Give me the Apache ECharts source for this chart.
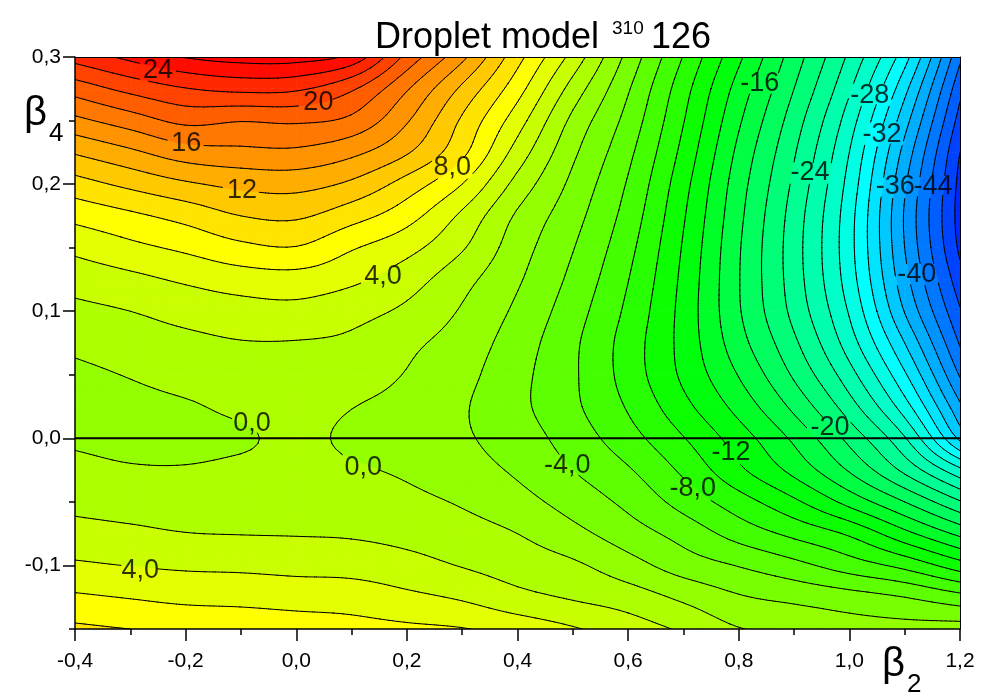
<!DOCTYPE html>
<html><head><meta charset="utf-8">
<script src="https://cdn.jsdelivr.net/npm/echarts@6/dist/echarts.min.js"></script>
<style>html,body{margin:0;padding:0;background:#fff}#c{width:997px;height:696px}</style>
</head><body><div id="c"></div>
<script>
// ---- data ----
const beta2 = [-0.4,-0.3,-0.2,-0.1,0.0,0.1,0.2,0.3,0.4,0.5,0.6,0.7,0.8,0.9,1.0,1.1,1.2];
const beta4 = [0.3,0.275,0.25,0.225,0.2,0.175,0.15,0.125,0.1,0.075,0.05,0.025,0.0,-0.025,-0.05,-0.075,-0.1,-0.125,-0.15];
// energy[row for beta4][column for beta2], MeV
const energy = [
 [22.8,24.5,26.1,26.8,26.8,25.4,19.4,14.5,8.7,3.3,-2.6,-8.1,-13.6,-19.0,-24.4,-31.2,-41.6],
 [18.9,20.6,21.9,22.5,22.3,20.3,16.2,11.6,6.8,1.2,-3.8,-9.2,-14.8,-20.0,-25.7,-33.4,-43.4],
 [15.5,17.0,18.5,18.1,18.3,17.5,14.2,9.7,4.9,-0.5,-4.7,-9.9,-15.7,-21.0,-27.0,-35.2,-44.8],
 [12.2,13.6,15.1,15.5,15.6,14.5,12.2,8.5,3.15,-1.6,-5.5,-10.6,-16.5,-21.8,-28.0,-36.7,-46.0],
 [9.2,10.5,11.7,12.5,12.7,11.6,9.15,6.0,1.3,-2.5,-6.2,-11.3,-17.1,-22.4,-28.7,-37.7,-46.6],
 [6.6,7.6,8.7,10.0,10.3,8.8,6.8,3.6,-0.3,-3.25,-6.8,-11.8,-17.5,-22.9,-29.2,-38.2,-46.8],
 [4.5,5.5,6.4,7.5,7.9,6.2,4.65,2.2,-1.1,-3.9,-7.4,-12.2,-17.8,-23.1,-29.3,-38.0,-46.4],
 [2.8,3.5,4.3,5.0,5.2,4.4,2.9,0.67,-1.75,-4.5,-7.95,-12.5,-17.9,-23.0,-29.0,-37.3,-45.2],
 [1.5,2.0,2.7,3.2,3.4,2.7,1.6,-0.2,-2.4,-5.1,-8.45,-12.7,-17.8,-22.6,-28.2,-36.1,-43.8],
 [0.45,1.0,1.5,1.9,1.9,1.6,0.44,-0.9,-3.0,-5.6,-8.9,-12.7,-17.2,-21.6,-27.0,-34.0,-42.2],
 [-0.4,0.1,0.7,1.1,1.3,0.8,-0.1,-1.4,-3.4,-5.7,-8.85,-12.4,-16.1,-20.3,-25.2,-31.7,-40.2],
 [-0.6,-0.5,-0.2,0.4,0.8,0.05,-0.6,-1.8,-3.5,-5.6,-8.2,-11.4,-14.7,-18.5,-23.1,-29.1,-37.6],
 [-0.3,-0.6,-0.6,-0.25,0.4,-0.35,-1.1,-1.75,-3.0,-4.9,-7.2,-9.9,-13.0,-16.4,-20.6,-25.8,-34.5],
 [0.6,0.2,0.15,0.45,0.7,0.25,-0.3,-1.2,-2.3,-4.0,-5.8,-8.4,-11.6,-14.6,-18.2,-22.5,-27.5],
 [1.5,1.2,1.05,1.2,1.2,1.05,0.5,-0.2,-1.3,-2.8,-4.5,-6.75,-9.1,-11.6,-14.7,-18.0,-21.8],
 [2.7,2.4,2.05,1.95,1.9,1.8,1.4,0.8,0.0,-1.4,-3.05,-4.75,-6.8,-8.5,-10.3,-13.4,-16.5],
 [4.3,3.95,3.7,3.6,3.4,3.25,2.7,1.9,1.1,0.35,-1.2,-2.95,-4.1,-5.4,-7.0,-8.6,-11.1],
 [6.3,5.9,5.5,5.4,5.2,5.1,4.45,3.75,2.6,1.8,1.0,-0.4,-1.8,-2.5,-3.2,-4.0,-5.3],
 [8.4,8.0,7.7,7.4,7.05,6.7,6.4,6.1,5.3,4.2,3.0,1.7,0.1,-0.4,-1.0,-1.2,-1.0]
];
const levelMin = -50, levelStep = 2;
// contour labels: [level, beta2, beta4]
const contourLabels = [
 [24,-0.250,0.289],[20,0.040,0.264],[16,-0.199,0.232],[12,-0.098,0.195],
 [8,0.282,0.213],[4,0.157,0.127],[0,-0.080,0.0116],[0,0.121,-0.023],
 [4,-0.282,-0.104],[-4,0.490,-0.0215],[-8,0.717,-0.0397],[-12,0.786,-0.0113],
 [-16,0.838,0.2795],[-20,0.965,0.0084],[-24,0.929,0.209],[-28,1.037,0.270],
 [-32,1.059,0.239],[-36,1.083,0.198],[-44,1.151,0.198],[-40,1.122,0.129]
];
const yMajorTicks = [-0.1,0.0,0.1,0.2,0.3];

// ---- helpers ----
const FONT = "'Liberation Sans', Arial, Helvetica, sans-serif";
const LABEL_SIZE = 27;
const NX = beta2.length, NY = beta4.length;
function G(i,j){
  if(i<0) return 2*G(0,j)-G(1,j);
  if(i>NX-1) return 2*G(NX-1,j)-G(NX-2,j);
  if(j<0) return 2*G(i,0)-G(i,1);
  if(j>NY-1) return 2*G(i,NY-1)-G(i,NY-2);
  return energy[j][i];
}
function cr(p0,p1,p2,p3,t){
  return 0.5*((2*p1)+(-p0+p2)*t+(2*p0-5*p1+4*p2-p3)*t*t+(-p0+3*p1-3*p2+p3)*t*t*t);
}
function field(gx,gy){
  const i=Math.min(NX-2,Math.floor(gx)), j=Math.min(NY-2,Math.floor(gy));
  const tx=gx-i, ty=gy-j, r=[];
  for(let m=-1;m<=2;m++) r.push(cr(G(i-1,j+m),G(i,j+m),G(i+1,j+m),G(i+2,j+m),tx));
  return cr(r[0],r[1],r[2],r[3],ty);
}
function hueColor(v){
  let h=(26-v)/76*240; h=Math.max(0,Math.min(240,h));
  let r,g,b;
  if(h<60){r=255;g=255*h/60;b=0;}
  else if(h<120){r=255*(120-h)/60;g=255;b=0;}
  else if(h<180){r=0;g=255;b=255*(h-120)/60;}
  else {r=0;g=255*(240-h)/60;b=255;}
  return 'rgb('+Math.round(r)+','+Math.round(g)+','+Math.round(b)+')';
}
function bandColor(k){ return hueColor(levelMin+k*levelStep+levelStep/2); }
function fmtTick(v){ return (Math.round(v*10)/10).toFixed(1).replace('.',','); }
function fmtLevel(v){ return Math.abs(v)<10 ? v.toFixed(1).replace('.',',') : String(v); }
function textWidth(s){ let w=0; for(const ch of s) w+= ch==='-'?0.333:(ch===','?0.278:0.556); return w*LABEL_SIZE; }

const cells=[];
for(let j=0;j<NY-1;j++) for(let i=0;i<NX-1;i++) cells.push([beta2[i],beta4[j],beta2[i+1],beta4[j+1],i,j]);

const SUB=6;
function nodes(api){
  const i=api.value(4), j=api.value(5);
  const p0=api.coord([api.value(0),api.value(1)]), p1=api.coord([api.value(2),api.value(3)]);
  const P=[];
  for(let b=0;b<=SUB;b++) for(let a=0;a<=SUB;a++){
    P.push([p0[0]+(p1[0]-p0[0])*a/SUB, p0[1]+(p1[1]-p0[1])*b/SUB, field(i+a/SUB,j+b/SUB)+1e-7]);
  }
  return P;
}
function eachTri(P,fn){
  for(let b=0;b<SUB;b++) for(let a=0;a<SUB;a++){
    const n00=b*(SUB+1)+a, n10=n00+1, n01=n00+SUB+1, n11=n01+1;
    fn([P[n00],P[n10],P[n11]]); fn([P[n00],P[n11],P[n01]]);
  }
}
function clip(poly,L,above){
  const out=[];
  for(let k=0;k<poly.length;k++){
    const A=poly[k], B=poly[(k+1)%poly.length];
    const inA=above?A[2]>=L:A[2]<=L, inB=above?B[2]>=L:B[2]<=L;
    if(inA) out.push(A);
    if(inA!==inB){const t=(L-A[2])/(B[2]-A[2]); out.push([A[0]+t*(B[0]-A[0]),A[1]+t*(B[1]-A[1]),L]);}
  }
  return out;
}
const f2=v=>v.toFixed(2);
function renderFill(params,api){
  const P=nodes(api); const bands={};
  eachTri(P,function(T){
    const vmin=Math.min(T[0][2],T[1][2],T[2][2]), vmax=Math.max(T[0][2],T[1][2],T[2][2]);
    const k0=Math.floor((vmin-levelMin)/levelStep), k1=Math.floor((vmax-levelMin)/levelStep);
    for(let k=k0;k<=k1;k++){
      const lo=levelMin+k*levelStep, hi=lo+levelStep;
      let poly=T;
      if(vmin<lo) poly=clip(poly,lo,true);
      if(vmax>hi) poly=clip(poly,hi,false);
      if(poly.length<3) continue;
      let s='M'+f2(poly[0][0])+' '+f2(poly[0][1]);
      for(let q=1;q<poly.length;q++) s+='L'+f2(poly[q][0])+' '+f2(poly[q][1]);
      bands[k]=(bands[k]||'')+s+'Z';
    }
  });
  const children=[];
  Object.keys(bands).forEach(function(k){
    const c=bandColor(+k);
    children.push({type:'path',shape:{pathData:bands[k]},style:{fill:c,stroke:c,lineWidth:0.7}});
  });
  return {type:'group',children:children};
}
function labelBoxes(api){
  return contourLabels.map(function(d){
    const c=api.coord([d[1],d[2]]), hw=textWidth(fmtLevel(d[0]))/2+2;
    return [c[0]-hw,c[1]-11,c[0]+hw,c[1]+11];
  });
}
function renderLines(params,api){
  const P=nodes(api); const boxes=labelBoxes(api); let s='';
  function hidden(x,y){ for(const b of boxes){ if(x>b[0]&&x<b[2]&&y>b[1]&&y<b[3]) return true; } return false; }
  eachTri(P,function(T){
    const vmin=Math.min(T[0][2],T[1][2],T[2][2]), vmax=Math.max(T[0][2],T[1][2],T[2][2]);
    const k0=Math.ceil((vmin-levelMin)/levelStep), k1=Math.floor((vmax-levelMin)/levelStep);
    for(let k=k0;k<=k1;k++){
      const L=levelMin+k*levelStep; if(L<=vmin||L>=vmax) continue;
      const pts=[];
      for(let e=0;e<3;e++){
        const A=T[e],B=T[(e+1)%3];
        if((A[2]-L)*(B[2]-L)<0){const t=(L-A[2])/(B[2]-A[2]); pts.push([A[0]+t*(B[0]-A[0]),A[1]+t*(B[1]-A[1])]);}
      }
      if(pts.length===2){
        if(hidden((pts[0][0]+pts[1][0])/2,(pts[0][1]+pts[1][1])/2)) continue;
        s+='M'+f2(pts[0][0])+' '+f2(pts[0][1])+'L'+f2(pts[1][0])+' '+f2(pts[1][1]);
      }
    }
  });
  if(!s) return null;
  return {type:'path',shape:{pathData:s},style:{fill:null,stroke:'#000',lineWidth:1,lineCap:'round'}};
}

const axisBlack={color:'#000',width:1.5};
const option={
  animation:false,
  backgroundColor:'#fff',
  grid:{left:75,right:37,top:57,bottom:67,containLabel:false},
  xAxis:[
    {type:'value',min:-0.4,max:1.2,interval:0.2,position:'bottom',z:10,
     axisLine:{show:true,onZero:false,lineStyle:axisBlack},
     axisTick:{show:true,inside:false,length:12,lineStyle:axisBlack},
     minorTick:{show:true,splitNumber:2,length:6,lineStyle:axisBlack},
     axisLabel:{formatter:fmtTick,fontSize:21,color:'#000',fontFamily:FONT,margin:22},
     splitLine:{show:false},minorSplitLine:{show:false}},
    {type:'value',min:-0.4,max:1.2,position:'top',z:10,
     axisLine:{show:true,onZero:false,lineStyle:{color:'#000',width:1}},
     axisTick:{show:false},axisLabel:{show:false},splitLine:{show:false}}
  ],
  yAxis:[
    {type:'value',min:-0.15,max:0.3,interval:0.05,position:'left',z:10,
     axisLine:{show:true,onZero:false,lineStyle:axisBlack},
     axisTick:{show:true,inside:false,length:6,lineStyle:axisBlack},
     axisLabel:{fontSize:21,color:'#000',fontFamily:FONT,margin:14,
       formatter:function(v){return Math.abs(v*10-Math.round(v*10))<1e-6?fmtTick(v):'';}},
     splitLine:{show:false}},
    {type:'value',min:-0.15,max:0.3,interval:0.05,position:'left',z:10,
     axisLine:{show:false,onZero:false},
     axisTick:{show:true,inside:false,length:12,customValues:yMajorTicks,lineStyle:axisBlack},
     axisLabel:{show:false},splitLine:{show:false}},
    {type:'value',min:-0.15,max:0.3,position:'right',z:10,
     axisLine:{show:true,onZero:false,lineStyle:{color:'#000',width:1}},
     axisTick:{show:false},axisLabel:{show:false},splitLine:{show:false}}
  ],
  series:[
    {type:'custom',name:'fill',renderItem:renderFill,data:cells,encode:{x:[0,2],y:[1,3]},z:1,silent:true,clip:true},
    {type:'custom',name:'lines',renderItem:renderLines,data:cells,encode:{x:[0,2],y:[1,3]},z:2,silent:true,clip:true},
    {type:'line',data:[[beta2[0],0],[beta2[NX-1],0]],symbol:'none',lineStyle:{color:'#000',width:2},z:3,silent:true},
    {type:'scatter',z:4,symbolSize:1,itemStyle:{color:'rgba(0,0,0,0)'},silent:true,
     data:contourLabels.map(function(d){return {value:[d[1],d[2]],
       label:{show:true,position:'inside',formatter:fmtLevel(d[0]),fontSize:LABEL_SIZE,color:'#000',fontFamily:FONT}};})}
  ],
  graphic:[
    {type:'text',left:375,top:20,style:{text:'Droplet model',fontSize:36,fontFamily:FONT,fill:'#000'}},
    {type:'text',left:612,top:19,style:{text:'310',fontSize:19,fontFamily:FONT,fill:'#000'}},
    {type:'text',left:651,top:20,style:{text:'126',fontSize:36,fontFamily:FONT,fill:'#000'}},
    {type:'text',left:882,top:645,style:{text:'β',fontSize:40,fontFamily:FONT,fill:'#000'}},
    {type:'text',left:907,top:672,style:{text:'2',fontSize:26,fontFamily:FONT,fill:'#000'}},
    {type:'text',left:24,top:94,style:{text:'β',fontSize:40,fontFamily:FONT,fill:'#000'}},
    {type:'text',left:49,top:121,style:{text:'4',fontSize:26,fontFamily:FONT,fill:'#000'}}
  ]
};
const chart=echarts.init(document.getElementById('c'),null,{renderer:'canvas'});
chart.setOption(option);
</script></body></html>
